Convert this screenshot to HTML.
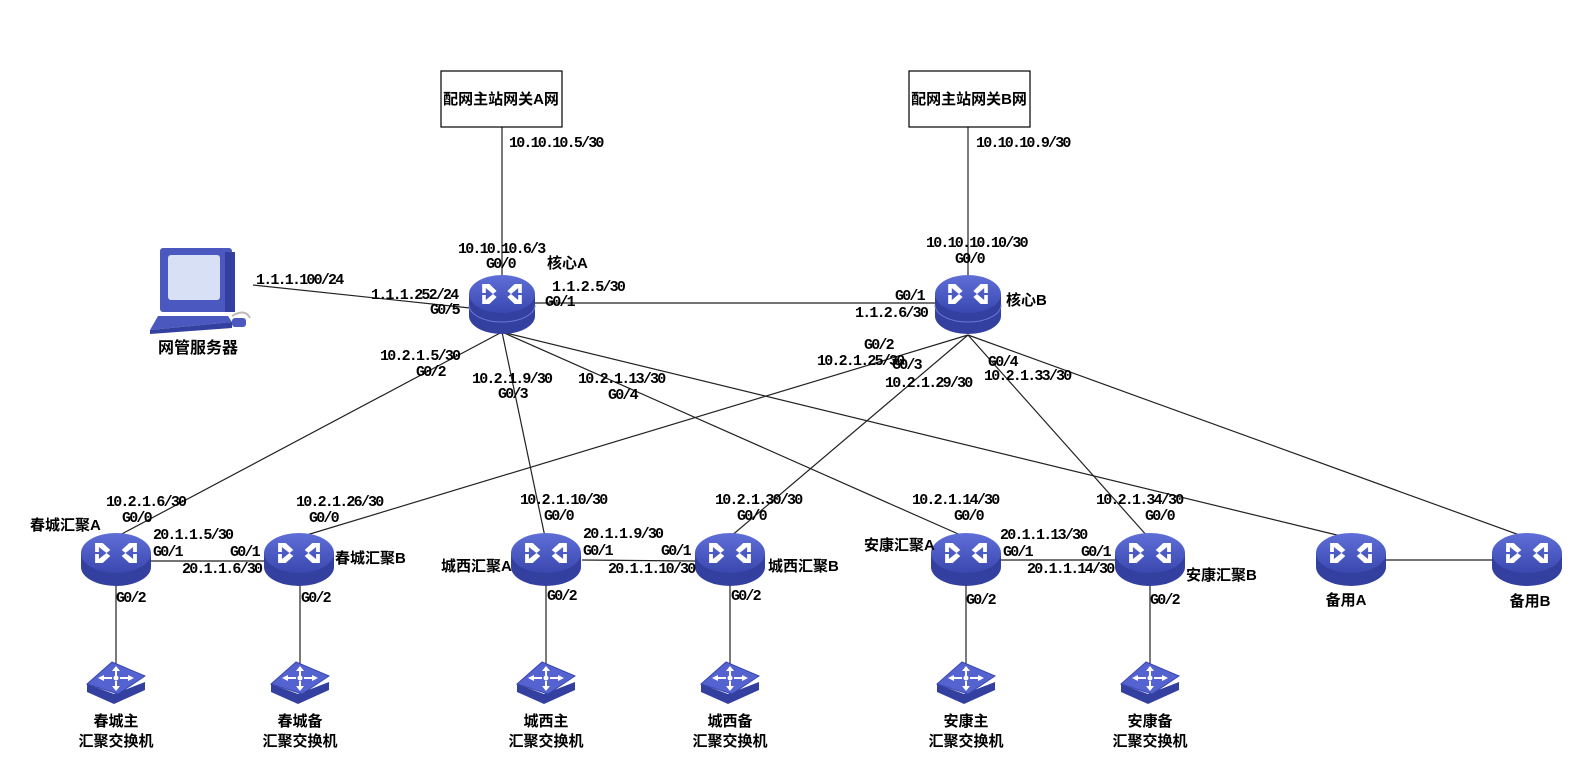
<!DOCTYPE html>
<html><head><meta charset="utf-8"><style>
html,body{margin:0;padding:0;background:#fff;}
svg{display:block}
.n{font-family:"Liberation Mono",monospace;font-size:15px;letter-spacing:-1.8px;font-weight:bold;fill:#000}
.c{font-family:"Liberation Sans","Noto Sans CJK SC",sans-serif;font-size:15px;font-weight:bold;fill:#000}
line{stroke:#222;stroke-width:1.2}
</style></head><body>
<svg width="1585" height="774" viewBox="0 0 1585 774" xmlns="http://www.w3.org/2000/svg">
<defs>
<linearGradient id="rg" x1="0" y1="0" x2="0" y2="1"><stop offset="0" stop-color="#5f6fd8"/><stop offset="1" stop-color="#3a48b0"/></linearGradient>
<g id="arr" fill="#fff">
<path d="M-22,-10 L-14,-10 L-6,-3 L-10,0 L-18,-6 L-18,-1 L-22,-1Z"/>
<path d="M22,-10 L14,-10 L6,-3 L10,0 L18,-6 L18,-1 L22,-1Z"/>
<path d="M-22,10 L-14,10 L-6,3 L-10,0 L-18,6 L-18,1 L-22,1Z"/>
<path d="M22,10 L14,10 L6,3 L10,0 L18,6 L18,1 L22,1Z"/>
</g>
<g id="rt">
<path d="M-35,0 L-35,14 A35,19 0 0 0 35,14 L35,0Z" fill="#3340a0"/>
<ellipse cx="0" cy="0" rx="35" ry="20" fill="url(#rg)"/>
<use href="#arr" transform="scale(0.95,1)"/>
</g>
<g id="core">
<path d="M-33,0 L-33,22 A33,18 0 0 0 33,22 L33,0Z" fill="#3340a0"/>
<path d="M-33,11 A33,17 0 0 0 33,11" fill="none" stroke="#6a78d8" stroke-width="1"/>
<ellipse cx="0" cy="0" rx="33" ry="19" fill="url(#rg)"/>
<use href="#arr" transform="scale(0.9,1)"/>
</g>
<g id="sw">
<polygon points="-29,4 -29,12 -2,24 29,10 29,2 -2,14" fill="#3340a0"/>
<polygon points="-29,4 -4,-18 29,-4 2,14" fill="#5563d0"/>
<polygon points="-29,4 -4,-18 29,-4 2,14" fill="none" stroke="#3a48b0"/>
<g fill="#fff"><path d="M0,-14 L4,-9 L1,-9 L1,-3 L-1,-3 L-1,-9 L-4,-9Z"/><path d="M0,11 L4,6 L1,6 L1,1 L-1,1 L-1,6 L-4,6Z"/><path d="M-18,-2 L-12,-5 L-12,-3 L-4,-3 L-4,-1 L-12,-1 L-12,1Z"/><path d="M18,-2 L12,-5 L12,-3 L4,-3 L4,-1 L12,-1 L12,1Z"/><circle cx="0" cy="-2" r="2.5"/></g>
</g>
</defs>

<line x1="502" y1="127" x2="502" y2="280"/>
<line x1="968" y1="127" x2="968" y2="280"/>
<line x1="253" y1="285" x2="470" y2="308"/>
<line x1="535" y1="303" x2="935" y2="303"/>
<line x1="502" y1="332" x2="116" y2="537"/>
<line x1="502" y1="332" x2="545" y2="537"/>
<line x1="502" y1="332" x2="965" y2="537"/>
<line x1="502" y1="332" x2="1345" y2="537"/>
<line x1="968" y1="335" x2="300" y2="537"/>
<line x1="968" y1="335" x2="730" y2="537"/>
<line x1="968" y1="335" x2="1148" y2="537"/>
<line x1="968" y1="335" x2="1525" y2="537"/>
<line x1="151" y1="561" x2="264" y2="561"/>
<line x1="582" y1="560" x2="695" y2="561"/>
<line x1="1001" y1="560" x2="1115" y2="560"/>
<line x1="1386" y1="560" x2="1492" y2="560"/>
<line x1="116" y1="585" x2="116" y2="665"/>
<line x1="300" y1="585" x2="300" y2="665"/>
<line x1="546" y1="585" x2="546" y2="665"/>
<line x1="730" y1="585" x2="730" y2="665"/>
<line x1="966" y1="585" x2="966" y2="665"/>
<line x1="1150" y1="585" x2="1150" y2="665"/>

<rect x="441" y="71" width="121" height="56" fill="#fff" stroke="#000" stroke-width="1.2"/>
<text class="c" x="501" y="104" text-anchor="middle">配网主站网关A网</text>
<rect x="909" y="71" width="121" height="56" fill="#fff" stroke="#000" stroke-width="1.2"/>
<text class="c" x="969" y="104" text-anchor="middle">配网主站网关B网</text>

<g>
<rect x="160" y="248" width="72" height="64" rx="3" fill="#4a58c0"/>
<rect x="168" y="255" width="52" height="45" rx="3" fill="#d8e0f6"/>
<rect x="225" y="252" width="10" height="60" fill="#3340a0"/>
<polygon points="158,316 228,316 232,322 150,330" fill="#4a58c0"/>
<polygon points="150,330 232,322 232,328 150,334" fill="#3340a0"/>
<path d="M232,316 Q245,308 250,318" fill="none" stroke="#bbb" stroke-width="2"/>
<rect x="232" y="318" width="14" height="9" rx="3" fill="#4a58c0"/>
</g>
<text class="c" x="198" y="353" text-anchor="middle" style="font-size:16px">网管服务器</text>

<use href="#core" x="502" y="294"/>
<use href="#core" x="968" y="294"/>
<use href="#rt" x="116" y="553"/>
<use href="#rt" x="299" y="553"/>
<use href="#rt" x="546" y="553"/>
<use href="#rt" x="730" y="553"/>
<use href="#rt" x="966" y="553"/>
<use href="#rt" x="1150" y="553"/>
<use href="#rt" x="1351" y="553"/>
<use href="#rt" x="1527" y="553"/>

<use href="#sw" x="116" y="680"/>
<use href="#sw" x="300" y="680"/>
<use href="#sw" x="546" y="680"/>
<use href="#sw" x="730" y="680"/>
<use href="#sw" x="966" y="680"/>
<use href="#sw" x="1150" y="680"/>

<text class="n" x="509" y="147">10.10.10.5/30</text>
<text class="n" x="976" y="147">10.10.10.9/30</text>
<text class="n" x="458" y="253">10.10.10.6/3</text>
<text class="n" x="486" y="268">G0/0</text>
<text class="c" x="547" y="268">核心A</text>
<text class="n" x="552" y="291">1.1.2.5/30</text>
<text class="n" x="545" y="306">G0/1</text>
<text class="n" x="256" y="284">1.1.1.100/24</text>
<text class="n" x="371" y="299">1.1.1.252/24</text>
<text class="n" x="430" y="314">G0/5</text>
<text class="n" x="926" y="247">10.10.10.10/30</text>
<text class="n" x="955" y="263">G0/0</text>
<text class="c" x="1006" y="305">核心B</text>
<text class="n" x="895" y="300">G0/1</text>
<text class="n" x="855" y="317">1.1.2.6/30</text>
<text class="n" x="864" y="349">G0/2</text>
<text class="n" x="817" y="365">10.2.1.25/30</text>
<text class="n" x="892" y="369">G0/3</text>
<text class="n" x="885" y="387">10.2.1.29/30</text>
<text class="n" x="988" y="366">G0/4</text>
<text class="n" x="984" y="380">10.2.1.33/30</text>
<text class="n" x="380" y="360">10.2.1.5/30</text>
<text class="n" x="416" y="376">G0/2</text>
<text class="n" x="472" y="383">10.2.1.9/30</text>
<text class="n" x="498" y="398">G0/3</text>
<text class="n" x="578" y="383">10.2.1.13/30</text>
<text class="n" x="608" y="399">G0/4</text>

<text class="n" x="106" y="506">10.2.1.6/30</text>
<text class="n" x="122" y="522">G0/0</text>
<text class="c" x="30" y="530">春城汇聚A</text>
<text class="n" x="153" y="539">20.1.1.5/30</text>
<text class="n" x="153" y="556">G0/1</text>
<text class="n" x="230" y="556">G0/1</text>
<text class="n" x="182" y="573">20.1.1.6/30</text>
<text class="c" x="335" y="563">春城汇聚B</text>
<text class="n" x="296" y="506">10.2.1.26/30</text>
<text class="n" x="309" y="522">G0/0</text>
<text class="n" x="116" y="602">G0/2</text>
<text class="n" x="301" y="602">G0/2</text>
<text class="c" x="116" y="726" text-anchor="middle">春城主</text>
<text class="c" x="116" y="746" text-anchor="middle">汇聚交换机</text>
<text class="c" x="300" y="726" text-anchor="middle">春城备</text>
<text class="c" x="300" y="746" text-anchor="middle">汇聚交换机</text>

<text class="n" x="520" y="504">10.2.1.10/30</text>
<text class="n" x="544" y="520">G0/0</text>
<text class="c" x="441" y="571">城西汇聚A</text>
<text class="n" x="583" y="538">20.1.1.9/30</text>
<text class="n" x="583" y="555">G0/1</text>
<text class="n" x="661" y="555">G0/1</text>
<text class="n" x="608" y="573">20.1.1.10/30</text>
<text class="c" x="768" y="571">城西汇聚B</text>
<text class="n" x="715" y="504">10.2.1.30/30</text>
<text class="n" x="737" y="520">G0/0</text>
<text class="n" x="547" y="600">G0/2</text>
<text class="n" x="731" y="600">G0/2</text>
<text class="c" x="546" y="726" text-anchor="middle">城西主</text>
<text class="c" x="546" y="746" text-anchor="middle">汇聚交换机</text>
<text class="c" x="730" y="726" text-anchor="middle">城西备</text>
<text class="c" x="730" y="746" text-anchor="middle">汇聚交换机</text>

<text class="n" x="912" y="504">10.2.1.14/30</text>
<text class="n" x="954" y="520">G0/0</text>
<text class="c" x="864" y="550">安康汇聚A</text>
<text class="n" x="1000" y="539">20.1.1.13/30</text>
<text class="n" x="1003" y="556">G0/1</text>
<text class="n" x="1081" y="556">G0/1</text>
<text class="n" x="1027" y="573">20.1.1.14/30</text>
<text class="c" x="1186" y="580">安康汇聚B</text>
<text class="n" x="1096" y="504">10.2.1.34/30</text>
<text class="n" x="1145" y="520">G0/0</text>
<text class="n" x="966" y="604">G0/2</text>
<text class="n" x="1150" y="604">G0/2</text>
<text class="c" x="966" y="726" text-anchor="middle">安康主</text>
<text class="c" x="966" y="746" text-anchor="middle">汇聚交换机</text>
<text class="c" x="1150" y="726" text-anchor="middle">安康备</text>
<text class="c" x="1150" y="746" text-anchor="middle">汇聚交换机</text>

<text class="c" x="1346" y="605" text-anchor="middle">备用A</text>
<text class="c" x="1530" y="606" text-anchor="middle">备用B</text>
</svg>
</body></html>
